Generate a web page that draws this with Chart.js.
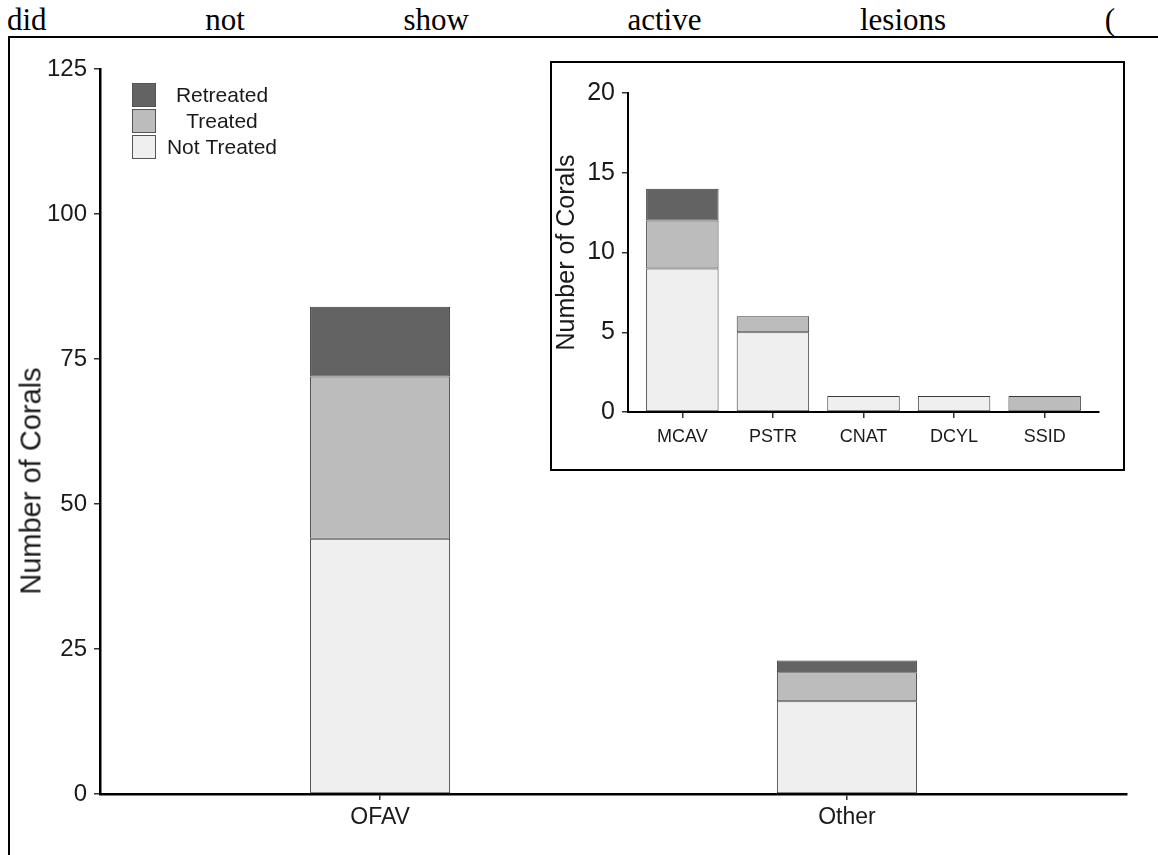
<!DOCTYPE html>
<html>
<head>
<meta charset="utf-8">
<script src="https://cdn.jsdelivr.net/npm/chart.js@4"></script>
<style>
  body { margin: 0; background: #fff; width: 1158px; height: 855px; overflow: hidden; position: relative; }
  #textLine {
    position: absolute; left: 7px; top: 4px; width: 1108px;
    display: flex; justify-content: space-between;
    font: 31px "Liberation Serif", "Times New Roman", serif; line-height: 31px; color: #000;
  }
  #frame {
    position: absolute; left: 8px; top: 36px; width: 1150px; height: 819px;
    border-top: 2px solid #000; border-left: 2px solid #000; box-sizing: border-box;
  }
  #mainWrap { position: absolute; left: 0; top: 0; width: 1158px; height: 855px; }
  #mainTitle {
    position: absolute; left: 31px; top: 481px; white-space: nowrap;
    transform: translate(-50%, -50%) rotate(-90deg);
    font: 29px "Liberation Sans", Arial, sans-serif; color: #1a1a1a;
  }
  #insetWrap { position: absolute; left: 550px; top: 61px; width: 575px; height: 410px; background: #fff; }
  #insetBox {
    position: absolute; left: 550px; top: 61px; width: 575px; height: 410px;
    border: 2px solid #000; box-sizing: border-box; pointer-events: none;
  }
</style>
</head>
<body>
<div id="textLine"><span>did</span><span>not</span><span>show</span><span>active</span><span>lesions</span><span>(</span></div>
<div id="frame"></div>
<div id="mainWrap"><canvas id="mainChart"></canvas></div>
<div id="mainTitle">Number of Corals</div>
<div id="insetWrap"><canvas id="insetChart"></canvas></div>
<div id="insetBox"></div>
<script>
// main panel
const categories = ["OFAV", "Other"];
const notTreated = [44, 16];
const treated = [28, 5];
const retreated = [12, 2];

// inset panel
const insetCategories = ["MCAV", "PSTR", "CNAT", "DCYL", "SSID"];
const insetNotTreated = [9, 5, 1, 1, 0];
const insetTreated = [3, 1, 0, 0, 1];
const insetRetreated = [2, 0, 0, 0, 0];

const seriesLabels = ["Not Treated", "Treated", "Retreated"];
const seriesColors = ["#efefef", "#bcbcbc", "#636363"];

const FONT = "'Liberation Sans', Arial, sans-serif";
const TEXT = "#1a1a1a";

function toPoints(values) {
  return values.map((v, i) => ({ x: i + 1, y: v }));
}

function makeDatasets(groups, barPct) {
  return groups.map((values, i) => ({
    label: seriesLabels[i],
    data: toPoints(values),
    backgroundColor: seriesColors[i],
    borderColor: "#3a3a3a",
    borderWidth: 1,
    borderSkipped: false,
    barPercentage: barPct,
    categoryPercentage: 1
  }));
}

const boxLegend = {
  id: "boxLegend",
  afterDraw(chart, args, opts) {
    if (!opts.show) return;
    const ctx = chart.ctx;
    const sets = chart.data.datasets.slice().reverse();
    ctx.save();
    ctx.font = `21px ${FONT}`;
    ctx.textAlign = "center";
    ctx.textBaseline = "middle";
    sets.forEach((ds, i) => {
      const y = opts.top + i * (opts.box + opts.gap);
      ctx.fillStyle = ds.backgroundColor;
      ctx.fillRect(opts.left, y, opts.box, opts.box);
      ctx.strokeStyle = "#555";
      ctx.lineWidth = 1;
      ctx.strokeRect(opts.left + 0.5, y + 0.5, opts.box - 1, opts.box - 1);
      ctx.fillStyle = TEXT;
      ctx.fillText(ds.label, opts.textX, y + opts.box / 2 + 1);
    });
    ctx.restore();
  }
};

function buildChart(canvasId, cfg) {
  const cats = cfg.categories;
  return new Chart(document.getElementById(canvasId), {
    type: "bar",
    data: {
      datasets: makeDatasets(cfg.groups, cfg.barPct)
    },
    plugins: [boxLegend],
    options: {
      responsive: true,
      maintainAspectRatio: false,
      animation: false,
      layout: { padding: cfg.padding },
      plugins: {
        legend: { display: false },
        tooltip: { enabled: false },
        boxLegend: cfg.legend
      },
      scales: {
        x: {
          type: "linear",
          stacked: true,
          offset: false,
          min: 0.4,
          max: cats.length + 0.6,
          afterBuildTicks: (scale) => {
            scale.ticks = cats.map((c, i) => ({ value: i + 1 }));
          },
          afterFit: (scale) => { scale.height = cfg.xHeight; },
          ticks: {
            color: TEXT,
            font: { family: FONT, size: cfg.xFont },
            padding: cfg.xPad,
            maxRotation: 0,
            autoSkip: false,
            callback: (v) => cats[v - 1]
          },
          grid: { offset: false, drawOnChartArea: false, drawTicks: true, tickLength: 6, tickColor: "#333", lineWidth: 1.5 },
          border: { display: true, color: "#000", width: cfg.axisWidth }
        },
        y: {
          stacked: true,
          min: 0,
          max: cfg.yMax,
          afterFit: (scale) => { scale.width = cfg.yWidth; },
          ticks: {
            stepSize: cfg.yStep,
            color: TEXT,
            font: { family: FONT, size: cfg.yFont },
            padding: cfg.yPad
          },
          grid: { drawOnChartArea: false, drawTicks: true, tickLength: 6, tickColor: "#333", lineWidth: 1.5 },
          border: { display: true, color: "#000", width: cfg.axisWidth },
          title: {
            display: cfg.showTitle,
            text: "Number of Corals",
            color: TEXT,
            font: { family: FONT, size: cfg.titleFont },
            padding: { top: cfg.titlePad, bottom: 0 }
          }
        }
      }
    }
  });
}

buildChart("mainChart", {
  categories: categories,
  groups: [notTreated, treated, retreated],
  barPct: 0.3,
  padding: { left: 8, top: 69, right: 31, bottom: 0 },
  xHeight: 61,
  yWidth: 92,
  xFont: 23,
  xPad: 4,
  yFont: 24,
  yPad: 7,
  yMax: 125,
  yStep: 25,
  showTitle: false,
  titleFont: 28,
  titlePad: 0,
  axisWidth: 2.5,
  legend: { show: true, left: 132, top: 83, box: 24, gap: 2, textX: 222 }
});

buildChart("insetChart", {
  categories: insetCategories,
  groups: [insetNotTreated, insetTreated, insetRetreated],
  barPct: 0.8,
  padding: { left: 0, top: 32, right: 26, bottom: 0 },
  xHeight: 59,
  yWidth: 78,
  xFont: 18,
  xPad: 8,
  yFont: 25,
  yPad: 7,
  yMax: 20,
  yStep: 5,
  showTitle: true,
  titleFont: 25,
  titlePad: 2,
  axisWidth: 2,
  legend: { show: false }
});
</script>
</body>
</html>
